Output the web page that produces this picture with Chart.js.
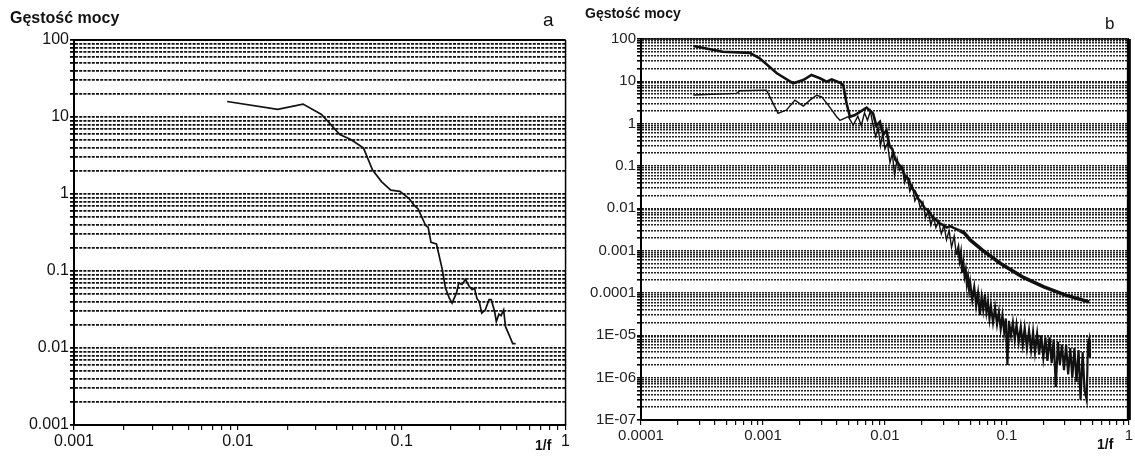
<!DOCTYPE html>
<html lang="pl">
<head>
<meta charset="utf-8">
<script src="https://cdn.jsdelivr.net/npm/chart.js@4.4.1/dist/chart.umd.min.js"></script>
<style>
  body { margin: 0; background: #fff; width: 1135px; height: 460px; position: relative; overflow: hidden;
         font-family: "Liberation Sans", Arial, sans-serif; }
  canvas { position: absolute; top: 0; }
  #chartA { left: 0; }
  #chartB { left: 572px; }
  .txt { position: absolute; color: #111; white-space: nowrap; line-height: 1; }
  .bold { font-weight: bold; }
</style>
</head>
<body>
<canvas id="chartA" width="572" height="460"></canvas>
<canvas id="chartB" width="563" height="460"></canvas>

<div class="txt bold" style="left:10px; top:10px; font-size:16px">Gęstość mocy</div>
<div class="txt" style="left:543px; top:10px; font-size:19px">a</div>
<div class="txt bold" style="left:535px; top:438px; font-size:14px">1/f</div>
<div class="txt bold" style="left:585px; top:6px; font-size:14px">Gęstość mocy</div>
<div class="txt" style="left:1105px; top:15px; font-size:17px">b</div>
<div class="txt bold" style="left:1097px; top:437px; font-size:14px">1/f</div>

<script>
// --- wykres a : gęstość mocy, jedna seria ---
const freqA = [0.0086, 0.0175, 0.025, 0.0324, 0.0419, 0.0489, 0.0585, 0.0664, 0.0755, 0.0858,
  0.0975, 0.111, 0.12, 0.126, 0.14, 0.145, 0.151, 0.163, 0.176, 0.185,
  0.195, 0.203, 0.216, 0.223, 0.233, 0.245, 0.258, 0.269, 0.278, 0.288,
  0.297, 0.308, 0.324, 0.341, 0.352, 0.369, 0.378, 0.392, 0.404, 0.419,
  0.43, 0.453, 0.476, 0.496];
const densA = [15.9, 12.6, 14.7, 10.8, 5.9, 5.1, 3.95, 2.05, 1.44, 1.12,
  1.08, 0.87, 0.70, 0.64, 0.39, 0.37, 0.236, 0.224, 0.11, 0.060,
  0.0447, 0.0383, 0.0519, 0.070, 0.0668, 0.0777, 0.0635, 0.0574, 0.060, 0.0437,
  0.0403, 0.0283, 0.0313, 0.0424, 0.0424, 0.0298, 0.022, 0.0275, 0.0263, 0.0313,
  0.0189, 0.0147, 0.0114, 0.0114];

// --- wykres b : dwie serie ---
const freqB1 = [0.000269, 0.00047, 0.00078, 0.00094, 0.0013, 0.00177, 0.00214, 0.0025, 0.00293, 0.00333,
  0.00366, 0.00428, 0.00455, 0.00485, 0.00517, 0.00568, 0.00624, 0.00708, 0.0080, 0.0085,
  0.0091, 0.0097, 0.0103, 0.0109, 0.0115, 0.0122, 0.0130, 0.0138, 0.0147, 0.0156,
  0.0166, 0.0176, 0.0187, 0.0199, 0.0212, 0.0227, 0.0243, 0.0260, 0.0279, 0.0300,
  0.0322, 0.0342, 0.0370, 0.0410, 0.0449, 0.050, 0.063, 0.0887, 0.134, 0.201,
  0.303, 0.473];
const densB1 = [68, 50, 47, 35, 15.5, 9.0, 10.7, 14.1, 11.8, 9.8,
  11.1, 9.3, 8.2, 3.0, 1.46, 1.6, 1.9, 2.4, 1.75, 0.9,
  1.1, 0.55, 0.7, 0.3, 0.25, 0.14, 0.11, 0.09, 0.055, 0.05,
  0.03, 0.025, 0.017, 0.014, 0.010, 0.009, 0.0065, 0.0055, 0.0045, 0.0040,
  0.0035, 0.0038, 0.0034, 0.0030, 0.0026, 0.0018, 0.00103, 0.0005, 0.00024, 0.000139,
  0.0000891, 0.0000617];

const freqB2 = [0.000269, 0.000608, 0.000648, 0.00107, 0.00133, 0.00156, 0.00183, 0.00214, 0.00243, 0.00275,
  0.00303, 0.00343, 0.00402, 0.00428, 0.0050, 0.0055, 0.0060, 0.0064, 0.0068, 0.0072,
  0.0076, 0.0080, 0.0084, 0.0088, 0.0092, 0.0096, 0.0100, 0.0105, 0.0110, 0.0115,
  0.0120, 0.0126, 0.0132, 0.0138, 0.0145, 0.0152, 0.0160, 0.0168, 0.0176, 0.0185,
  0.0195, 0.0205, 0.0215, 0.0226, 0.0238, 0.0250, 0.0262, 0.0275, 0.0290, 0.0305,
  0.0320, 0.0336, 0.0352, 0.0370, 0.0385,
  0.040, 0.041, 0.042, 0.043, 0.044, 0.045, 0.046, 0.047, 0.048, 0.049,
  0.050, 0.052, 0.054, 0.056, 0.058, 0.060, 0.062, 0.064, 0.066, 0.068,
  0.070, 0.072, 0.074, 0.077, 0.080, 0.083, 0.086, 0.089, 0.092, 0.095,
  0.098, 0.101, 0.104, 0.108, 0.112, 0.116, 0.120, 0.125, 0.130, 0.135,
  0.140, 0.146, 0.152, 0.158, 0.164, 0.170, 0.177, 0.184, 0.191, 0.199,
  0.207, 0.215, 0.224, 0.233, 0.242, 0.252, 0.262, 0.272, 0.283, 0.294,
  0.306, 0.318, 0.331, 0.344, 0.358, 0.372, 0.387, 0.402, 0.418, 0.434,
  0.451, 0.462, 0.473, 0.480];
const densB2 = [4.75, 5.2, 6.0, 6.2, 1.75, 2.1, 3.6, 2.6, 3.6, 4.7,
  4.3, 2.75, 1.46, 1.2, 1.46, 0.93, 1.5, 0.9, 1.8, 1.2,
  2.0, 0.9, 0.5, 0.8, 0.3, 0.6, 0.25, 0.35, 0.12, 0.2,
  0.06, 0.15, 0.08, 0.1, 0.04, 0.06, 0.025, 0.035, 0.015, 0.02,
  0.01, 0.014, 0.006, 0.009, 0.004, 0.0065, 0.0035, 0.005, 0.0025, 0.004,
  0.0018, 0.003, 0.0012, 0.0022, 0.0008,
  1.2e-3, 6e-4, 9e-4, 3e-4, 5e-4, 2.5e-4, 3.5e-4, 1.6e-4, 2.4e-4, 1.2e-4,
  1.8e-4, 7e-5, 1.4e-4, 5e-5, 1.0e-4, 3e-5, 8e-5, 4e-5, 9e-5, 3.5e-5,
  6e-5, 2.5e-5, 5e-5, 2e-5, 4.5e-5, 1.8e-5, 3.5e-5, 1.4e-5, 3e-5, 1.2e-5,
  2.5e-5, 2e-6, 2.2e-5, 1e-5, 2e-5, 8e-6, 1.8e-5, 7e-6, 1.6e-5, 6e-6,
  1.5e-5, 5e-6, 1.3e-5, 4.5e-6, 1.2e-5, 4e-6, 1.1e-5, 3.5e-6, 1e-5, 3e-6,
  9e-6, 2.5e-6, 9e-6, 2.2e-6, 8e-6, 6e-7, 7e-6, 2e-6, 6e-6, 1.5e-6,
  6e-6, 1.2e-6, 5e-6, 1e-6, 5e-6, 8e-7, 4.5e-6, 3e-7, 4e-6, 5e-7,
  3e-7, 6e-6, 8e-6, 3e-6];

// etykiety osi (dekady)
const xDecadesA = [0.001, 0.01, 0.1, 1];
const xLabelsA = ['0.001', '0.01', '0.1', '1'];
const yDecadesA = [0.001, 0.01, 0.1, 1, 10, 100];
const yLabelsA = ['0.001', '0.01', '0.1', '1', '10', '100'];

const xDecadesB = [0.0001, 0.001, 0.01, 0.1, 1];
const xLabelsB = ['0.0001', '0.001', '0.01', '0.1', '1'];
const yDecadesB = [1e-7, 1e-6, 1e-5, 1e-4, 0.001, 0.01, 0.1, 1, 10, 100];
const yLabelsB = ['1E-07', '1E-06', '1E-05', '0.0001', '0.001', '0.01', '0.1', '1', '10', '100'];

// linie siatki: 1..9 w każdej dekadzie
const minorSteps = [1, 2, 3, 4, 5, 6, 7, 8, 9];

function gridValues(decades) {
  const out = [];
  decades.forEach((d, i) => {
    if (i === decades.length - 1) { out.push(d); return; }
    minorSteps.forEach(m => out.push(m * d));
  });
  return out;
}

function labelFor(v, decades, labels) {
  const i = decades.findIndex(d => Math.abs(Math.log10(d) - Math.log10(v)) < 1e-6);
  return i >= 0 ? labels[i] : '';
}

function pts(xs, ys) {
  return xs.map((x, i) => ({ x: x, y: ys[i] }));
}

// szerszy ślad w części szumowej (powyżej ~0.04)
const tailWidth = (thin, thick) => ctx => (ctx.p0.parsed.x >= 0.0385 ? thick : thin);

// ramka: górna i prawa krawędź obszaru wykresu
const framePlugin = {
  id: 'frame',
  afterDraw(chart, args, opts) {
    const { ctx, chartArea: a } = chart;
    ctx.save();
    ctx.strokeStyle = '#000';
    ctx.lineWidth = opts.right;
    ctx.beginPath();
    ctx.moveTo(a.right, a.top);
    ctx.lineTo(a.right, a.bottom);
    ctx.stroke();
    ctx.lineWidth = opts.top;
    ctx.beginPath();
    ctx.moveTo(a.left, a.top);
    ctx.lineTo(a.right, a.top);
    ctx.stroke();
    ctx.restore();
  }
};

Chart.defaults.font.family = '"Liberation Sans", Arial, sans-serif';
Chart.defaults.color = '#111';

function makeChart(id, cfg) {
  return new Chart(document.getElementById(id), {
    type: 'line',
    data: { datasets: cfg.datasets },
    options: {
      responsive: false,
      animation: false,
      events: [],
      layout: { padding: cfg.padding },
      plugins: { legend: { display: false }, tooltip: { enabled: false }, frame: cfg.frame },
      elements: { point: { radius: 0 }, line: { tension: 0 } },
      scales: {
        x: {
          type: 'logarithmic',
          min: cfg.xDecades[0],
          max: cfg.xDecades[cfg.xDecades.length - 1],
          afterBuildTicks: s => { s.ticks = gridValues(cfg.xDecades).map(v => ({ value: v })); },
          afterFit: s => { s.height = cfg.xHeight; },
          ticks: {
            autoSkip: false, maxRotation: 0, padding: 2,
            font: { size: cfg.fontSize }, color: cfg.labelColor,
            callback: v => labelFor(v, cfg.xDecades, cfg.xLabels)
          },
          grid: { drawOnChartArea: false, drawTicks: true, tickLength: 5, color: '#111', lineWidth: 1.2 },
          border: { display: true, color: '#000', width: 2 }
        },
        y: {
          type: 'logarithmic',
          min: cfg.yDecades[0],
          max: cfg.yDecades[cfg.yDecades.length - 1],
          afterBuildTicks: s => { s.ticks = gridValues(cfg.yDecades).map(v => ({ value: v })); },
          afterFit: s => { s.width = cfg.yWidth; },
          ticks: {
            autoSkip: false, padding: 1,
            font: { size: cfg.fontSize }, color: cfg.labelColor,
            callback: v => labelFor(v, cfg.yDecades, cfg.yLabels)
          },
          grid: { color: cfg.gridColor, lineWidth: cfg.gridWidth, drawTicks: true, tickLength: 4, tickColor: '#000' },
          border: { display: true, color: '#000', width: 2, dash: cfg.gridDash }
        }
      }
    },
    plugins: [framePlugin]
  });
}

makeChart('chartA', {
  datasets: [{ data: pts(freqA, densA), borderColor: '#111', borderWidth: 1.7 }],
  xDecades: xDecadesA, xLabels: xLabelsA, yDecades: yDecadesA, yLabels: yLabelsA,
  padding: { left: 0, right: 6, top: 40, bottom: 0 },
  xHeight: 35, yWidth: 74, fontSize: 16, labelColor: '#111',
  gridColor: '#111', gridWidth: 1.8, gridDash: [3, 1.2],
  frame: { right: 1.5, top: 2 }
});

makeChart('chartB', {
  datasets: [
    { data: pts(freqB1, densB1), borderColor: '#111', borderWidth: 2.6,
      segment: { borderWidth: tailWidth(2.6, 3.6) } },
    { data: pts(freqB2, densB2), borderColor: '#111', borderWidth: 1.4,
      segment: { borderWidth: tailWidth(1.4, 2.2) } }
  ],
  xDecades: xDecadesB, xLabels: xLabelsB, yDecades: yDecadesB, yLabels: yLabelsB,
  padding: { left: 0, right: 6, top: 39, bottom: 0 },
  xHeight: 40, yWidth: 69, fontSize: 15, labelColor: '#222',
  gridColor: '#222', gridWidth: 1.6, gridDash: [2, 1],
  frame: { right: 4, top: 1.5 }
});
</script>
</body>
</html>
